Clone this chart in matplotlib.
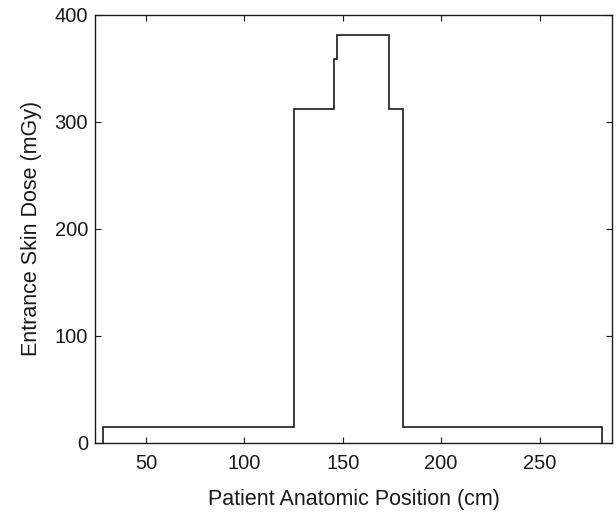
import matplotlib
matplotlib.use("Agg")
import matplotlib.pyplot as plt

# Data: step boundaries (cm) and dose levels (mGy)
edges = [28, 125, 145.5, 147, 173.5, 180.5, 282]
dose = [15, 312, 359, 381, 312, 15]
xticks = [50, 100, 150, 200, 250]
yticks = [0, 100, 200, 300, 400]

plt.rcParams['font.family'] = ['Liberation Sans', 'DejaVu Sans']

fig = plt.figure(figsize=(6.16, 5.13), dpi=100)
ax = fig.add_axes([95/616, 1-442.7/513, (612.3-95)/616, (442.7-15)/513])
ax.stairs(dose, edges, baseline=0, fill=False, color='#1a1a1a', linewidth=1.2)
ax.set_xlim(24, 287)
ax.set_ylim(0, 400)
ax.set_xticks(xticks)
ax.set_yticks(yticks)
ax.tick_params(direction='in', length=4, width=0.8, top=True, right=True,
               labelsize=14.5, colors='#1a1a1a')
ax.tick_params(axis='x', pad=8)
ax.tick_params(axis='y', pad=5)
for s in ax.spines.values():
    s.set_linewidth(1.0)
    s.set_color('#1a1a1a')
ax.set_xlabel('Patient Anatomic Position (cm)', fontsize=15.5, color='#1a1a1a', labelpad=12)
ax.set_ylabel('Entrance Skin Dose (mGy)', fontsize=15.5, color='#1a1a1a', labelpad=9)
fig.savefig('out.png', dpi=100)
